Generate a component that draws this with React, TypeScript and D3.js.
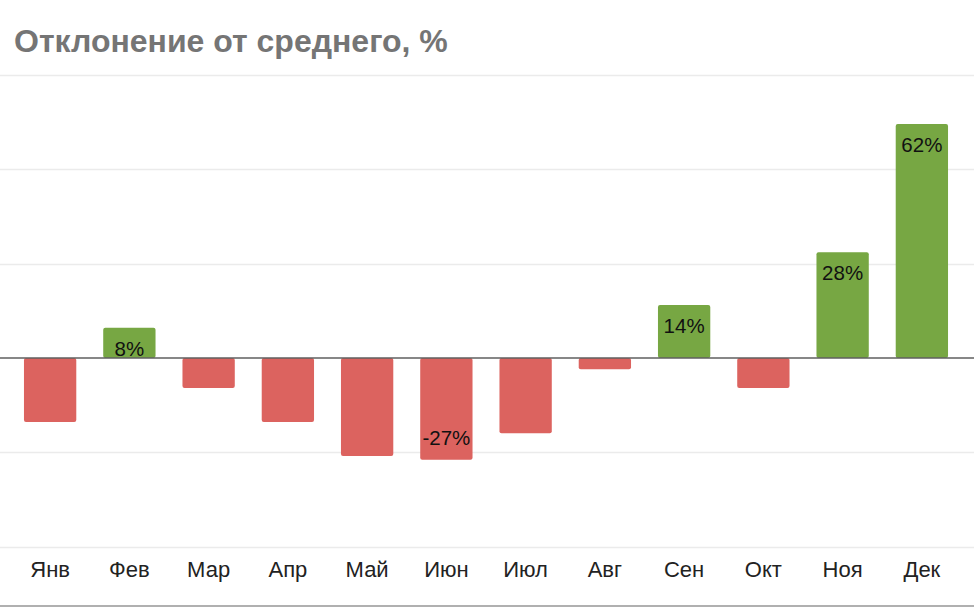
import React, { useRef, useEffect } from 'react';
import * as d3 from 'd3';

const months: string[] = ['Янв', 'Фев', 'Мар', 'Апр', 'Май', 'Июн', 'Июл', 'Авг', 'Сен', 'Окт', 'Ноя', 'Дек'];
const deviation: number[] = [-17, 8, -8, -17, -26, -27, -20, -3, 14, -8, 28, 62];
// only these months carry a value label in the original
const labelled: string[] = ['Фев', 'Июн', 'Сен', 'Ноя', 'Дек'];
const gridTicks: number[] = [-50, -25, 0, 25, 50, 75];

const W = 974;
const H = 609;
const FONT = '"Liberation Sans", Arial, sans-serif';

const App: React.FC = () => {
    const svgRef = useRef<SVGSVGElement | null>(null);

    useEffect(() => {
        const svg = d3.select(svgRef.current);
        svg.selectAll('*').remove();

        const x = d3.scaleBand<string>()
            .domain(months)
            .range([10.5, 961.5])
            .paddingInner(0.34)
            .paddingOuter(0.17);

        const y = d3.scaleLinear()
            .domain([-50, 75])
            .range([546.5, 75]);

        svg.append('rect')
            .attr('width', W)
            .attr('height', H)
            .attr('fill', '#fff');

        svg.append('text')
            .attr('x', 14)
            .attr('y', 52)
            .attr('font-family', FONT)
            .attr('font-weight', 700)
            .attr('font-size', 32)
            .attr('fill', '#757575')
            .text('Отклонение от среднего, %');

        // gridlines
        svg.append('g')
            .selectAll('line')
            .data(gridTicks.filter(t => t !== 0))
            .join('line')
            .attr('x1', 0)
            .attr('x2', W)
            .attr('y1', d => Math.round(y(d)) + 0.5)
            .attr('y2', d => Math.round(y(d)) + 0.5)
            .attr('stroke', '#ebebeb')
            .attr('stroke-width', 1.5);

        // bottom frame line
        svg.append('line')
            .attr('x1', 0)
            .attr('x2', W)
            .attr('y1', 606)
            .attr('y2', 606)
            .attr('stroke', '#b0b0b0')
            .attr('stroke-width', 2);

        const bars = svg.append('g');
        bars.selectAll('rect')
            .data(months)
            .join('rect')
            .attr('x', d => x(d) as number)
            .attr('width', x.bandwidth())
            .attr('y', (d, i) => Math.min(y(0), y(deviation[i])))
            .attr('height', (d, i) => Math.abs(y(deviation[i]) - y(0)))
            .attr('rx', 2)
            .attr('fill', (d, i) => deviation[i] >= 0 ? '#77a743' : '#dc635f');

        // zero line
        svg.append('line')
            .attr('x1', 0)
            .attr('x2', W)
            .attr('y1', y(0))
            .attr('y2', y(0))
            .attr('stroke', '#5f5f5f')
            .attr('stroke-width', 1.5);

        svg.append('g')
            .selectAll('text')
            .data(months.filter(m => labelled.includes(m)))
            .join('text')
            .attr('x', d => (x(d) as number) + x.bandwidth() / 2)
            .attr('y', d => {
                const v = deviation[months.indexOf(d)];
                return v >= 0 ? y(v) + 28 : y(v) - 15;
            })
            .attr('text-anchor', 'middle')
            .attr('font-family', FONT)
            .attr('font-size', 20.5)
            .attr('fill', '#111')
            .text(d => `${deviation[months.indexOf(d)]}%`);

        svg.append('g')
            .selectAll('text')
            .data(months)
            .join('text')
            .attr('x', d => (x(d) as number) + x.bandwidth() / 2)
            .attr('y', 577)
            .attr('text-anchor', 'middle')
            .attr('font-family', FONT)
            .attr('font-size', 22)
            .attr('fill', '#222')
            .text(d => d);
    }, []);

    return (
        <svg
            ref={svgRef}
            width={W}
            height={H}
            style={{ position: 'absolute', left: 0, top: 0 }}
        />
    );
};

export default App;
